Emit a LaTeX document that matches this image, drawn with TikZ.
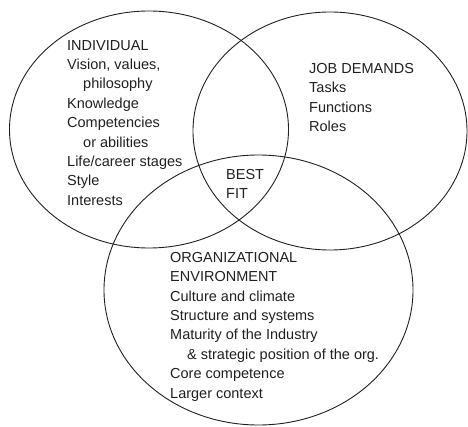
\documentclass[tikz,border=0pt]{standalone}
\usepackage{fontspec}
\setmainfont{Liberation Sans}
\definecolor{ink}{HTML}{231F20}
\tikzset{
  ring/.style={draw=ink, line width=0.9pt},
  listtext/.style={
    anchor=north west,
    inner sep=0pt,
    align=left,
    text=ink,
    font=\fontsize{14.5}{19.4}\selectfont
  }
}

\begin{document}
\begin{tikzpicture}[x=1pt,y=-1pt]
  \useasboundingbox (0,0) rectangle (468,427);
  % the three overlapping sets
  \draw[ring] (149,129.5) ellipse [x radius=139.5pt, y radius=118.5pt];
  \draw[ring] (330,131) ellipse [x radius=137pt, y radius=119pt];
  \draw[ring] (258.5,290) ellipse [x radius=154.5pt, y radius=135pt];
  % set contents
  \node[listtext] (individual) at (67,40) {INDIVIDUAL\\Vision, values,\\\hspace*{16pt}philosophy\\Knowledge\\Competencies\\\hspace*{16pt}or abilities\\Life/career stages\\Style\\Interests};
  \node[listtext] (jobdemands) at (309,63) {JOB DEMANDS\\Tasks\\Functions\\Roles};
  \node[listtext] (bestfit) at (226,169) {BEST\\FIT};
  \node[listtext] (orgenv) at (170,252) {ORGANIZATIONAL\\ENVIRONMENT\\Culture and climate\\Structure and systems\\Maturity of the Industry\\\hspace*{17pt}\& strategic position of the org.\\Core competence\\Larger context};
\end{tikzpicture}
\end{document}
